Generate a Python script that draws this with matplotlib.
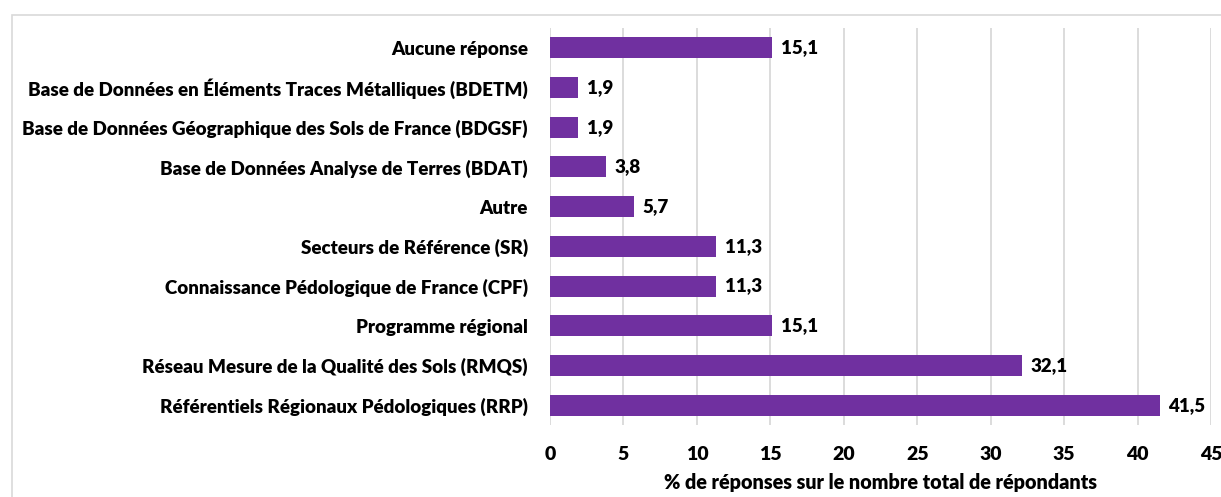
import matplotlib
matplotlib.use("Agg")
import matplotlib.pyplot as plt
from matplotlib.patches import Rectangle

categories = [
    "Référentiels Régionaux Pédologiques (RRP)",
    "Réseau Mesure de la Qualité des Sols (RMQS)",
    "Programme régional",
    "Connaissance Pédologique de France (CPF)",
    "Secteurs de Référence (SR)",
    "Autre",
    "Base de Données Analyse de Terres (BDAT)",
    "Base de Données Géographique des Sols de France (BDGSF)",
    "Base de Données en Éléments Traces Métalliques (BDETM)",
    "Aucune réponse",
]
values = [41.5, 32.1, 15.1, 11.3, 11.3, 5.7, 3.8, 1.9, 1.9, 15.1]
x_ticks = [0, 5, 10, 15, 20, 25, 30, 35, 40, 45]
x_label = "% de réponses sur le nombre total de répondants"

BAR = "#7030A0"
GRID = "#d9d9d9"
FONT = "Lato"
WEIGHT = "heavy"

W, H = 1221, 497
fig = plt.figure(figsize=(W / 100, H / 100), dpi=100)
ax = fig.add_axes([550 / W, 1 - 425 / H, (1211 - 550) / W, (425 - 28) / H])

ypos = list(range(len(categories)))
ax.barh(ypos, values, height=0.53, color=BAR, zorder=3)
for y, v in zip(ypos, values):
    ax.text(v + 0.6, y, f"{v:.1f}".replace(".", ","), va="center", ha="left",
            fontsize=13.5, fontweight=WEIGHT, family=FONT, color="black")

ax.set_xlim(0, 45)
ax.set_ylim(-0.5, len(categories) - 0.5)
ax.set_xticks(x_ticks)
ax.set_xticklabels([str(t) for t in x_ticks], fontsize=14, fontweight=WEIGHT, family=FONT)
ax.set_yticks(ypos)
ax.set_yticklabels(categories, fontsize=13.5, fontweight=WEIGHT, family=FONT)
ax.tick_params(axis="both", length=0)
ax.tick_params(axis="y", pad=16)
ax.tick_params(axis="x", pad=15)
ax.set_xlabel(x_label, fontsize=14.2, fontweight=WEIGHT, family=FONT, labelpad=7)
ax.grid(axis="x", color=GRID, linewidth=1.3, zorder=0)
for s in ax.spines.values():
    s.set_visible(False)

fig.patches.append(Rectangle((12 / W, -0.1), 1.2, 1 - 15 / H + 0.1,
                             transform=fig.transFigure, fill=False,
                             edgecolor=GRID, linewidth=1.2))

fig.savefig("out.png", dpi=100)
